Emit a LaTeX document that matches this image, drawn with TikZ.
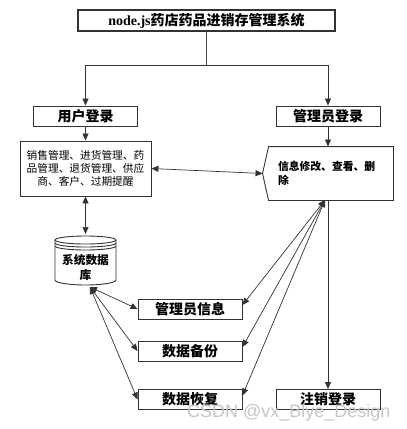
\documentclass[tikz,border=0pt]{standalone}
\usepackage{fontspec}
\setmainfont{Liberation Serif}
\newfontfamily\cjk{Noto Sans CJK SC}
\newfontfamily\wmfont{Liberation Sans}
\usetikzlibrary{arrows.meta, positioning, calc}
\tikzset{
    base/.style={draw=black!80, line width=0.9pt, align=center, font=\cjk\bfseries\fontsize{14}{16}\selectfont, fill=white, inner sep=0pt},
    titlebox/.style={base, line width=1.2pt, minimum width=257pt, minimum height=21pt},
    loginbox/.style={base, minimum width=104pt, minimum height=20pt},
    funcbox/.style={base, minimum width=131pt, minimum height=55pt, font=\cjk\fontsize{10.7}{13.3}\selectfont},
    infobox/.style={base, draw=none, fill=none, align=left, text width=100pt, inner xsep=15pt, minimum height=53pt, font=\cjk\bfseries\fontsize{10.8}{14}\selectfont},
    dbtext/.style={align=center, inner sep=0pt, font=\cjk\bfseries\fontsize{11.7}{15}\selectfont},
    border/.style={draw=black!80, line width=0.9pt},
    trunk/.style={draw=black!75, line width=1.6pt},
    arrow/.style={-{Triangle[length=7pt,width=6pt]}, draw=black!80, line width=0.7pt},
    dblarrow/.style={{Triangle[length=7pt,width=6pt]}-{Triangle[length=7pt,width=6pt]}, draw=black!80, line width=0.7pt},
    watermark/.style={text=gray!45, inner sep=0pt, font=\wmfont\fontsize{18}{20}\selectfont}
}
\begin{document}
\begin{tikzpicture}[x=1pt, y=1pt]
    \useasboundingbox (0,0) rectangle (407,-429);
    \node (title) [titlebox] at (206.5,-20.5) {{\rmfamily\bfseries node.js}药店药品进销存管理系统};
    \node (user) [loginbox] at (85.5,-116) {用户登录};
    \node (admin) [loginbox] at (328,-116) {管理员登录};
    \node (funcs) [funcbox] at (85.5,-168.5) {销售管理、进货管理、药\\品管理、退货管理、供应\\商、客户、过期提醒};
    \node (info) [infobox] at (328,-173.5) {信息修改、查看、删\\除};
    \draw [border] ($(info.north west)+(6,0)$) -- (info.north east) -- (info.south east) -- ($(info.south west)+(6,0)$) -- (info.west) -- cycle;

    % database cylinder
    \filldraw [border, fill=white] (55,-240) -- (55,-280) arc[start angle=180, end angle=360, x radius=30.5, y radius=5] -- (116,-240);
    \filldraw [border, fill=white] (85.5,-240) ellipse [x radius=30.5, y radius=4];
    \draw [border] (55,-243) arc[start angle=180, end angle=360, x radius=30.5, y radius=4];
    \draw [border] (55,-246) arc[start angle=180, end angle=360, x radius=30.5, y radius=4];
    \node (db) [dbtext] at (85.5,-267) {系统数据\\库};
    \coordinate (dbtop) at (85.5,-234);
    \coordinate (dbout) at (90,-287);

    \node (mgr) [loginbox] at (190,-309) {管理员信息};
    \node (backup) [loginbox] at (190,-351) {数据备份};
    \node (restore) [loginbox] at (190,-399.5) {数据恢复};
    \node (logout) [loginbox] at (328,-399.5) {注销登录};
    \coordinate (infoout) at (325,-200);

    \coordinate (split) at (206.5,-65);
    \draw [trunk] (title.south) -- (split);
    \draw [arrow] (split) -| (user.north);
    \draw [arrow] (split) -| (admin.north);
    \draw [arrow] (user) -- (funcs);
    \draw [arrow] (admin) -- (info);
    \draw [dblarrow] (funcs.east) -- (info.west);
    \draw [dblarrow] (funcs) -- (dbtop);
    \foreach \n in {mgr, backup, restore} {
        \draw [dblarrow] (dbout) -- (\n.west);
        \draw [dblarrow] (infoout) -- ($(\n.east)+(0,4)$);
    }
    \draw [arrow] (info.south) -- (logout.north);

    \node (wm) [watermark, anchor=base west] at (187,-417) {CSDN @vx\_Blye\_Design};
\end{tikzpicture}
\end{document}
